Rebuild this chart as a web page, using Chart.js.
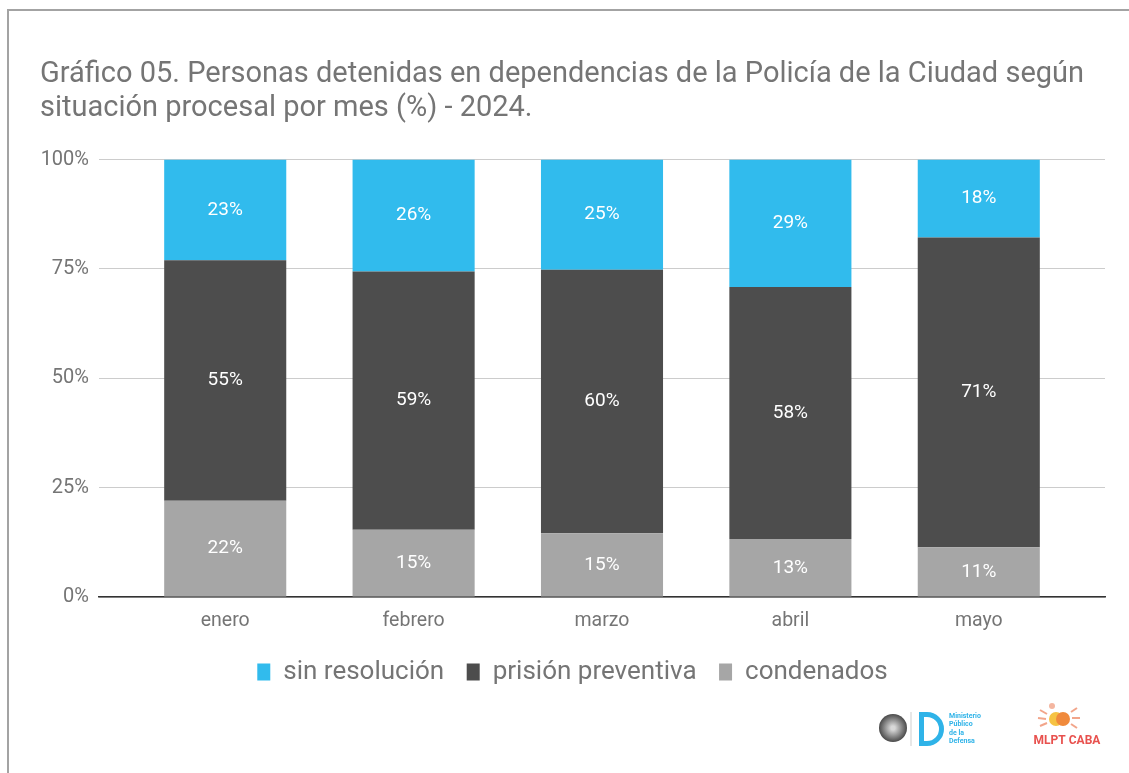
<!DOCTYPE html>
<html>
<head>
<meta charset="utf-8">
<script src="https://cdn.jsdelivr.net/npm/chart.js@4.4.1/dist/chart.umd.min.js"></script>
<style>
  html, body { margin: 0; padding: 0; background: #fff; }
  .frame { position: absolute; left: 7px; top: 9px; right: 0; bottom: 0;
           border-top: 2px solid #a3a3a3; border-left: 2px solid #a3a3a3; }
  .wrap { position: absolute; left: 0; top: 0; width: 1129px; height: 773px; }
</style>
</head>
<body>
<div class="frame"></div>
<div class="wrap"><canvas id="detenidosChart"></canvas></div>
<script>
// meses y porcentajes
const meses = ['enero', 'febrero', 'marzo', 'abril', 'mayo'];
const condenados = [22.0, 15.4, 14.6, 13.3, 11.4];
const prisionPreventiva = [55.0, 59.0, 60.2, 57.6, 70.8];
const sinResolucion = [23.0, 25.6, 25.2, 29.1, 17.8];
const ticksY = [0, 25, 50, 75, 100];

const gris = '#757575';
Chart.defaults.font.family = 'Roboto';
Chart.defaults.color = gris;

// etiquetas blancas dentro de cada segmento
const etiquetas = {
    id: 'etiquetas',
    afterDatasetsDraw(chart) {
        const c = chart.ctx;
        c.save();
        c.font = '19px Roboto';
        c.fillStyle = '#ffffff';
        c.textAlign = 'center';
        c.textBaseline = 'middle';
        chart.data.datasets.forEach((ds, i) => {
            chart.getDatasetMeta(i).data.forEach((bar, j) => {
                c.fillText(Math.round(ds.data[j].y) + '%', bar.x, (bar.y + bar.base) / 2);
            });
        });
        c.restore();
    }
};

// logos aproximados abajo a la derecha
const logos = {
    id: 'logos',
    afterDraw(chart) {
        const c = chart.ctx;
        c.save();
        // escudo
        const g = c.createRadialGradient(893, 728, 2, 893, 728, 14);
        g.addColorStop(0, '#d8d8d8');
        g.addColorStop(1, '#4a4a4a');
        c.fillStyle = g;
        c.beginPath(); c.arc(893, 728, 14, 0, Math.PI * 2); c.fill();
        c.strokeStyle = '#cfcfcf'; c.lineWidth = 1;
        c.beginPath(); c.moveTo(911, 712); c.lineTo(911, 746); c.stroke();
        // D azul
        c.fillStyle = '#2fb3e8';
        c.fillRect(919, 712, 5, 34);
        c.strokeStyle = '#2fb3e8'; c.lineWidth = 5;
        c.beginPath(); c.moveTo(922, 714.5); c.lineTo(927, 714.5);
        c.arc(927, 729, 14.5, -Math.PI / 2, Math.PI / 2); c.lineTo(922, 743.5); c.stroke();
        c.font = 'bold 7px Roboto';
        c.textAlign = 'left'; c.textBaseline = 'middle';
        ['Ministerio', 'Público', 'de la', 'Defensa'].forEach((t, k) => c.fillText(t, 949, 716 + k * 8.5));
        // MLPT CABA
        const soles = [['#f6c343', 1056, 719, 7], ['#f08a3c', 1063, 719, 7], ['#f4b6a0', 1052, 706, 3]];
        soles.forEach(([col, x, y, r]) => { c.fillStyle = col; c.beginPath(); c.arc(x, y, r, 0, Math.PI * 2); c.fill(); });
        c.strokeStyle = '#f2a58a'; c.lineWidth = 2;
        [[1040, 710, 1047, 714], [1038, 718, 1046, 719], [1040, 726, 1047, 723], [1071, 712, 1077, 708], [1072, 718, 1080, 718], [1071, 724, 1077, 728]]
            .forEach(([a, b, d, e]) => { c.beginPath(); c.moveTo(a, b); c.lineTo(d, e); c.stroke(); });
        c.fillStyle = '#e8514e';
        c.font = 'bold 12px Roboto';
        c.textAlign = 'center';
        c.fillText('MLPT CABA', 1067, 741);
        c.restore();
    }
};

const punto = arr => arr.map((v, i) => ({ x: i, y: v }));

const ctx = document.getElementById('detenidosChart').getContext('2d');
new Chart(ctx, {
    type: 'bar',
    data: {
        datasets: [
            { label: 'condenados', data: punto(condenados), backgroundColor: '#a6a6a6' },
            { label: 'prisión preventiva', data: punto(prisionPreventiva), backgroundColor: '#4d4d4d' },
            { label: 'sin resolución', data: punto(sinResolucion), backgroundColor: '#31bbed' }
        ]
    },
    options: {
        responsive: true,
        maintainAspectRatio: false,
        animation: false,
        barPercentage: 0.648,
        categoryPercentage: 1,
        layout: { padding: { left: 40, right: 24, top: 57, bottom: 78 } },
        plugins: {
            title: {
                display: true,
                align: 'start',
                text: ['Gráfico 05. Personas detenidas en dependencias de la Policía de la Ciudad según',
                       'situación procesal por mes (%) - 2024.'],
                font: { size: 29, weight: 'normal' },
                lineHeight: 1.2,
                color: gris,
                padding: { top: 0, bottom: 33 }
            },
            legend: {
                position: 'bottom',
                reverse: true,
                labels: { boxWidth: 13, boxHeight: 17, font: { size: 26 }, color: gris, padding: 22.5 }
            },
            tooltip: { enabled: false }
        },
        scales: {
            x: {
                type: 'linear',
                stacked: true,
                min: -0.67,
                max: 4.67,
                offset: false,
                afterBuildTicks: s => { s.ticks = meses.map((m, i) => ({ value: i })); },
                ticks: { callback: v => meses[v], font: { size: 19.5 }, color: gris, padding: 4 },
                grid: { display: false },
                border: { display: true, color: '#333333', width: 1.5 }
            },
            y: {
                stacked: true,
                min: 0,
                max: 100,
                afterBuildTicks: s => { s.ticks = ticksY.map(v => ({ value: v })); },
                afterFit: s => { s.width = 59; },
                ticks: { callback: v => v + '%', font: { size: 20 }, color: gris, padding: 10 },
                grid: { color: '#cccccc', lineWidth: 1, drawTicks: false },
                border: { display: false }
            }
        }
    },
    plugins: [etiquetas, logos]
});
</script>
</body>
</html>
